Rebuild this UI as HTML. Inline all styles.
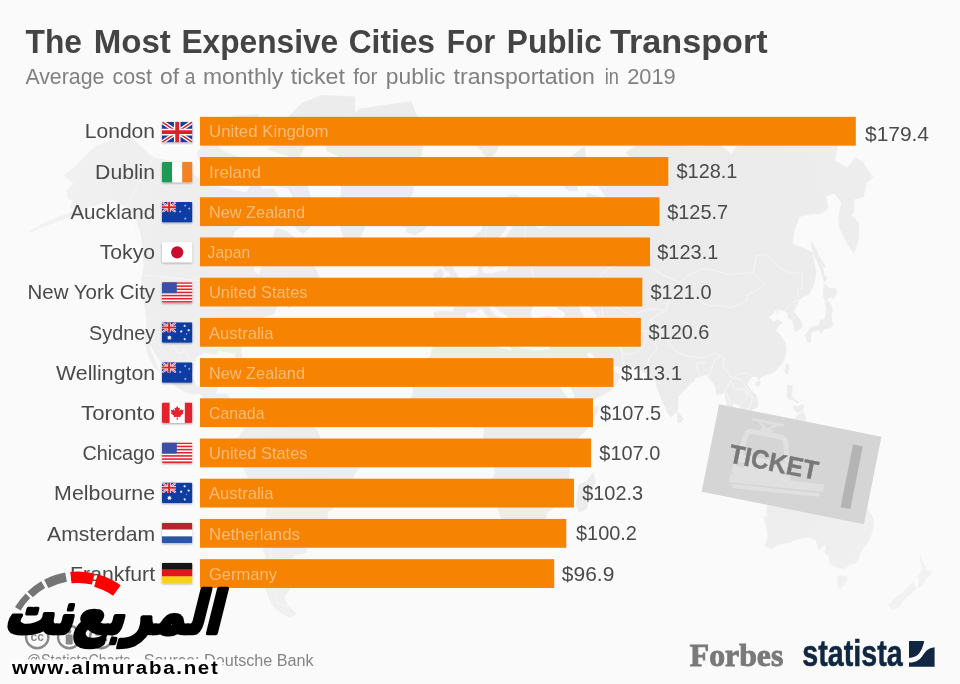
<!DOCTYPE html>
<html lang="en">
<head>
<meta charset="utf-8">
<title>The Most Expensive Cities For Public Transport</title>
<style>
html,body{margin:0;padding:0;background:#fafafa;}
body{width:960px;height:684px;overflow:hidden;font-family:"Liberation Sans","DejaVu Sans",sans-serif;}
svg{display:block;}
text{font-family:"Liberation Sans","DejaVu Sans",sans-serif;}
.title{font-size:32.7px;font-weight:bold;fill:#444444;}
.sub{font-size:21.4px;fill:#808080;}
.city,.val{font-size:20.4px;fill:#4a4a4a;}
.ctry{font-size:16.2px;fill:#fabb76;}
.src{font-size:16px;fill:#858585;}
</style>
</head>
<body>
<svg width="960" height="684" viewBox="0 0 960 684">
<defs>
<radialGradient id="landg" gradientUnits="userSpaceOnUse" cx="540" cy="250" r="520"><stop offset="0" stop-color="#ebebeb"/><stop offset="0.5" stop-color="#ececec"/><stop offset="0.8" stop-color="#efefef"/><stop offset="1" stop-color="#f2f2f2"/></radialGradient>
<clipPath id="mapclip"><rect x="0" y="92" width="960" height="560"/></clipPath>
<clipPath id="fclip"><rect width="30.4" height="20.5" rx="1.2" ry="1.2"/></clipPath>
<filter id="fsh" x="-20%" y="-20%" width="140%" height="150%"><feGaussianBlur in="SourceAlpha" stdDeviation="0.9"/><feOffset dx="0" dy="0.8" result="b"/><feComponentTransfer><feFuncA type="linear" slope="0.35"/></feComponentTransfer><feMerge><feMergeNode/><feMergeNode in="SourceGraphic"/></feMerge></filter>
<g id="f-uk" filter="url(#fsh)"><g clip-path="url(#fclip)"><svg width="30.4" height="20.5" viewBox="0 0 30.4 20.5"><g><rect width="30.4" height="20.5" fill="#1a3a9a"/><path d="M0,0L30.4,20.5M30.4,0L0,20.5" stroke="#fff" stroke-width="4.10"/><path d="M0,0L30.4,20.5M30.4,0L0,20.5" stroke="#d8202c" stroke-width="1.54"/><path d="M15.2,0V20.5M0,10.25H30.4" stroke="#fff" stroke-width="6.56"/><path d="M15.2,0V20.5M0,10.25H30.4" stroke="#d8202c" stroke-width="3.90"/></g></svg></g></g>
<g id="f-ie" filter="url(#fsh)"><g clip-path="url(#fclip)"><rect width="10.23" height="20.5" fill="#1d9a55"/><rect x="10.13" width="10.23" height="20.5" fill="#ffffff"/><rect x="20.27" width="10.13" height="20.5" fill="#f58220"/></g></g>
<g id="f-nz" filter="url(#fsh)"><g clip-path="url(#fclip)"><rect width="30.4" height="20.5" fill="#0c3ca3"/><svg width="14.2" height="10.3" viewBox="0 0 14.2 10.3"><g><rect width="14.2" height="10.3" fill="#1a3a9a"/><path d="M0,0L14.2,10.3M14.2,0L0,10.3" stroke="#fff" stroke-width="2.06"/><path d="M0,0L14.2,10.3M14.2,0L0,10.3" stroke="#d8202c" stroke-width="0.77"/><path d="M7.1,0V10.3M0,5.15H14.2" stroke="#fff" stroke-width="3.30"/><path d="M7.1,0V10.3M0,5.15H14.2" stroke="#d8202c" stroke-width="1.96"/></g></svg><polygon points="23.20,2.10 23.60,3.05 24.63,3.14 23.84,3.81 24.08,4.81 23.20,4.28 22.32,4.81 22.56,3.81 21.77,3.14 22.80,3.05" fill="#9db4f2"/><polygon points="27.20,5.10 27.60,6.05 28.63,6.14 27.84,6.81 28.08,7.81 27.20,7.27 26.32,7.81 26.56,6.81 25.77,6.14 26.80,6.05" fill="#9db4f2"/><polygon points="18.20,8.10 18.60,9.05 19.63,9.14 18.84,9.81 19.08,10.81 18.20,10.28 17.32,10.81 17.56,9.81 16.77,9.14 17.80,9.05" fill="#9db4f2"/><polygon points="23.30,15.10 23.70,16.05 24.73,16.14 23.94,16.81 24.18,17.81 23.30,17.28 22.42,17.81 22.66,16.81 21.87,16.14 22.90,16.05" fill="#9db4f2"/></g></g>
<g id="f-jp" filter="url(#fsh)"><g clip-path="url(#fclip)"><rect width="30.4" height="20.5" fill="#ffffff"/><circle cx="15.2" cy="10.25" r="6.1" fill="#c8102e"/></g></g>
<g id="f-us" filter="url(#fsh)"><g clip-path="url(#fclip)"><rect width="30.4" height="20.5" fill="#ffffff"/><rect y="0.00" width="30.4" height="1.58" fill="#e0212f"/><rect y="3.15" width="30.4" height="1.58" fill="#e0212f"/><rect y="6.31" width="30.4" height="1.58" fill="#e0212f"/><rect y="9.46" width="30.4" height="1.58" fill="#e0212f"/><rect y="12.62" width="30.4" height="1.58" fill="#e0212f"/><rect y="15.77" width="30.4" height="1.58" fill="#e0212f"/><rect y="18.92" width="30.4" height="1.58" fill="#e0212f"/><rect width="14.8" height="11.04" fill="#3a50a8"/></g></g>
<g id="f-au" filter="url(#fsh)"><g clip-path="url(#fclip)"><rect width="30.4" height="20.5" fill="#0c3ca3"/><svg width="14.2" height="10.3" viewBox="0 0 14.2 10.3"><g><rect width="14.2" height="10.3" fill="#1a3a9a"/><path d="M0,0L14.2,10.3M14.2,0L0,10.3" stroke="#fff" stroke-width="2.06"/><path d="M0,0L14.2,10.3M14.2,0L0,10.3" stroke="#d8202c" stroke-width="0.77"/><path d="M7.1,0V10.3M0,5.15H14.2" stroke="#fff" stroke-width="3.30"/><path d="M7.1,0V10.3M0,5.15H14.2" stroke="#d8202c" stroke-width="1.96"/></g></svg><polygon points="7.40,12.80 7.96,14.23 9.43,13.78 8.67,15.11 9.93,15.98 8.42,16.21 8.53,17.74 7.40,16.70 6.27,17.74 6.38,16.21 4.87,15.98 6.13,15.11 5.37,13.78 6.84,14.23" fill="#ffffff"/><polygon points="22.60,2.10 22.93,2.92 23.77,2.66 23.33,3.43 24.06,3.93 23.19,4.07 23.25,4.95 22.60,4.35 21.95,4.95 22.01,4.07 21.14,3.93 21.87,3.43 21.43,2.66 22.27,2.92" fill="#ffffff"/><polygon points="19.20,7.70 19.53,8.52 20.37,8.26 19.93,9.03 20.66,9.53 19.79,9.67 19.85,10.55 19.20,9.95 18.55,10.55 18.61,9.67 17.74,9.53 18.47,9.03 18.03,8.26 18.87,8.52" fill="#ffffff"/><polygon points="26.60,6.50 26.93,7.32 27.77,7.06 27.33,7.83 28.06,8.33 27.19,8.47 27.25,9.35 26.60,8.75 25.95,9.35 26.01,8.47 25.14,8.33 25.87,7.83 25.43,7.06 26.27,7.32" fill="#ffffff"/><polygon points="22.70,15.30 23.03,16.12 23.87,15.86 23.43,16.63 24.16,17.13 23.29,17.27 23.35,18.15 22.70,17.55 22.05,18.15 22.11,17.27 21.24,17.13 21.97,16.63 21.53,15.86 22.37,16.12" fill="#ffffff"/><polygon points="24.60,10.80 24.84,11.28 25.36,11.35 24.98,11.72 25.07,12.25 24.60,12.00 24.13,12.25 24.22,11.72 23.84,11.35 24.36,11.28" fill="#ffffff"/></g></g>
<g id="f-ca" filter="url(#fsh)"><g clip-path="url(#fclip)"><rect width="30.4" height="20.5" fill="#ffffff"/><rect width="7.6" height="20.5" fill="#e3222e"/><rect x="22.799999999999997" width="7.6" height="20.5" fill="#e3222e"/><path d="M15.2,3.2 l1.3,2.5 1.5,-0.7 -0.7,3.6 1.9,-2 0.4,1.1 2.1,-0.4 -0.9,2.8 0.9,0.5 -3.4,2.9 0.4,1.4 -3.1,-0.5 0.1,3.1 h-1 l0.1,-3.1 -3.1,0.5 0.4,-1.4 -3.4,-2.9 0.9,-0.5 -0.9,-2.8 2.1,0.4 0.4,-1.1 1.9,2 -0.7,-3.6 1.5,0.7z" fill="#e3222e"/></g></g>
<g id="f-nl" filter="url(#fsh)"><g clip-path="url(#fclip)"><rect width="30.4" height="20.5" fill="#ffffff"/><rect width="30.4" height="6.83" fill="#b3252f"/><rect y="13.67" width="30.4" height="6.83" fill="#2a55a6"/></g></g>
<g id="f-de" filter="url(#fsh)"><g clip-path="url(#fclip)"><rect width="30.4" height="6.93" fill="#141414"/><rect y="6.83" width="30.4" height="6.93" fill="#e2141c"/><rect y="13.67" width="30.4" height="6.83" fill="#fbd116"/></g></g>

</defs>
<rect x="0" y="0" width="960" height="684" fill="#fafafa"/>
<g clip-path="url(#mapclip)"><path d="M153.3,157.9L182.6,163.8L203.9,183.5L219.4,187.1L245.9,192.7L261.4,169.8L261.6,189.5L273.8,188.7L279.1,198.7L272.9,209.0L257.6,217.6L235.7,230.0L230.6,240.7L232.9,249.1L249.1,258.6L256.2,260.6L253.4,271.0L258.6,275.6L262.5,265.5L270.3,255.4L271.0,244.2L276.0,227.9L287.0,231.7L293.9,237.3L291.2,247.2L303.8,241.5L303.6,251.9L309.0,260.9L315.9,269.6L319.1,276.6L306.8,284.0L291.6,283.1L279.4,292.7L293.3,287.9L293.1,295.4L301.2,301.3L288.3,307.9L285.4,302.3L276.7,306.6L274.2,313.6L264.3,317.0L258.9,325.8L256.0,335.8L248.7,339.5L240.9,346.8L241.8,361.1L239.8,366.7L236.4,361.0L235.2,353.1L229.3,352.3L218.7,350.4L215.5,354.2L204.9,352.3L196.1,356.9L193.5,366.4L191.6,375.8L195.6,385.0L199.5,387.4L209.2,386.0L211.2,379.1L220.9,377.7L217.2,388.2L215.4,394.1L227.7,394.8L229.4,398.6L227.7,408.7L230.8,414.4L239.1,413.0L244.5,415.8L243.1,418.6L237.5,419.2L229.4,415.8L222.7,411.5L217.6,402.9L206.8,399.9L199.0,393.4L192.0,394.5L181.4,389.9L171.1,383.1L170.5,375.4L162.3,364.1L154.5,352.4L149.9,343.7L149.6,348.8L154.6,360.7L159.9,372.1L153.8,366.5L148.5,355.5L144.3,340.0L147.0,322.0L144.0,300.0L141.5,280.0L144.0,265.0L141.6,237.0L137.0,220.6L125.3,206.5L111.2,199.5L99.5,204.2L90.2,206.5L78.5,213.6L43.4,226.4L30.0,232.3L30.0,230.9L43.4,223.4L76.1,210.0L70.3,207.7L72.6,201.9L68.0,197.2L66.8,190.2L73.8,183.2L69.1,179.6L63.3,175.0L76.1,166.8L79.6,162.1L90.2,151.6L97.2,145.7L113.6,139.9L130.0,136.4ZM294.3,164.9L298.9,172.1L307.2,185.2L310.8,197.7L319.6,210.0L319.2,215.2L309.8,227.8L303.5,233.5L298.3,230.5L292.0,223.3L280.1,219.2L279.9,212.8L290.1,214.2L295.3,202.3L292.2,194.9L287.9,188.2L272.8,185.4L266.9,183.0L269.8,171.6L285.2,163.0ZM197.1,152.6L203.7,174.6L210.2,181.0L226.6,184.8L238.6,180.3L235.1,170.6L242.2,157.7L232.0,154.9L219.0,148.8L219.1,141.3L208.2,139.5ZM267.7,149.0L297.9,159.2L304.4,147.7L320.6,133.2L354.5,113.0L354.9,96.9L322.0,95.4L301.5,103.4L282.9,122.9L285.1,141.3ZM218.5,124.9L240.3,141.2L254.5,136.9L258.1,114.6L234.4,116.1ZM322.4,137.9L359.8,109.0L411.0,101.7L425.1,136.1L417.4,172.2L410.0,201.5L384.5,213.3L366.7,224.6L354.6,246.8L344.7,241.7L339.5,222.4L340.1,201.4L342.5,177.9L341.0,157.2L327.0,150.9ZM403.2,224.2L408.1,220.0L416.9,222.2L423.7,221.0L426.2,227.3L423.0,230.5L414.8,234.4L405.8,231.8L407.4,227.7L402.9,227.0ZM226.5,376.3L240.5,373.5L253.5,380.5L255.5,382.1L246.4,382.8L245.4,379.6L234.8,375.5ZM254.9,383.2L261.5,383.0L271.0,386.9L262.4,389.5L254.6,387.4ZM244.5,415.8L251.7,409.3L260.1,405.9L261.3,409.6L271.0,407.4L281.9,410.2L287.4,409.7L292.7,415.9L300.8,422.9L314.5,426.2L320.0,436.7L320.0,439.5L325.5,442.3L336.5,446.4L347.6,447.8L355.9,453.3L361.5,458.9L361.6,465.8L354.9,472.8L351.0,481.3L349.9,489.9L346.4,501.5L338.4,504.4L328.0,512.0L326.8,521.0L321.3,528.8L315.6,538.4L307.9,541.1L302.8,538.6L307.2,546.6L306.0,552.3L295.1,555.3L288.2,562.4L293.1,568.1L289.2,576.5L285.1,582.2L290.0,587.5L284.3,597.5L287.3,605.3L296.8,614.0L290.1,617.5L279.9,612.0L271.7,604.4L265.7,589.0L266.5,574.0L267.5,565.0L263.6,549.7L266.7,533.1L265.7,520.5L266.9,505.2L265.8,491.2L258.0,486.0L248.5,478.9L243.3,467.4L237.5,457.6L233.8,452.0L237.3,446.4L235.0,442.3L237.2,438.1L240.5,435.4L244.2,428.4L244.4,420.0ZM441.8,336.5L452.4,339.0L465.5,333.4L483.9,331.7L486.8,342.0L497.6,347.2L511.1,351.1L510.9,345.9L524.4,348.9L535.2,350.9L544.5,350.2L544.8,353.8L553.9,371.7L558.4,380.5L560.1,387.7L565.9,396.2L575.8,404.7L576.8,407.5L587.0,408.4L598.4,406.1L598.0,410.3L590.1,425.7L581.9,434.0L573.7,442.3L569.5,447.8L565.2,457.5L569.1,468.6L568.7,481.3L556.0,492.2L553.0,498.5L553.9,507.3L546.8,512.5L545.0,520.6L539.2,528.2L529.4,536.7L517.3,537.8L510.6,539.6L506.2,537.1L505.7,530.9L502.0,520.3L498.3,509.9L497.1,501.2L490.5,489.7L490.6,482.6L495.4,472.8L493.6,464.4L491.4,456.1L484.0,446.4L483.5,436.7L484.6,429.0L481.3,427.1L474.4,427.6L470.2,422.1L460.6,422.9L452.3,426.3L445.4,425.1L437.2,427.4L433.0,425.7L426.2,420.2L421.2,414.6L416.6,409.0L412.0,404.8L410.4,398.7L413.2,393.6L413.3,386.5L411.6,380.7L414.4,373.5L418.6,366.2L422.8,361.2L430.9,355.8L431.8,349.8L435.1,344.3L440.5,340.6ZM593.2,472.9L595.5,482.9L591.6,490.0L586.4,509.0L579.4,512.0L575.8,504.5L577.7,495.7L579.0,485.1L586.6,481.4L590.9,475.7ZM443.1,335.9L434.0,332.7L433.3,327.3L434.8,318.2L433.9,312.5L439.6,310.9L452.4,311.9L454.2,308.2L454.5,303.1L451.2,298.5L445.6,295.0L453.7,293.6L453.7,290.4L458.0,290.7L461.4,286.0L466.1,283.8L468.5,279.7L469.7,276.7L474.6,275.9L478.3,275.1L478.2,268.1L477.0,262.1L482.4,259.2L482.3,266.1L481.7,270.0L484.3,273.8L491.7,273.7L502.5,270.8L505.8,271.9L508.5,268.3L507.9,261.5L515.0,260.0L513.1,253.1L523.4,249.7L528.0,248.2L523.0,246.2L511.5,248.9L507.0,244.7L506.6,235.8L513.5,226.2L510.8,222.4L506.5,224.1L505.5,229.8L497.6,239.3L497.8,246.3L501.6,250.0L496.9,259.7L496.0,265.0L492.1,267.9L489.0,268.3L487.5,264.8L483.9,254.7L482.1,252.6L476.4,258.1L470.8,255.3L468.9,245.5L473.2,236.7L481.0,231.0L486.0,220.9L489.6,210.8L496.5,203.1L503.6,199.5L511.1,195.2L515.7,194.9L522.7,198.3L521.1,201.7L527.9,203.4L534.5,203.5L545.8,210.0L548.3,216.5L542.0,219.5L532.5,216.7L536.1,227.3L541.5,229.3L547.8,225.5L546.5,219.2L555.2,217.0L552.7,205.7L557.4,206.8L574.8,204.4L586.8,199.0L587.2,193.2L602.5,198.0L607.4,199.0L598.1,185.5L597.4,174.8L606.1,174.5L612.6,176.7L619.8,165.0L631.4,158.7L625.9,152.5L645.3,139.2L648.4,122.9L673.8,130.2L685.6,146.3L701.8,147.1L714.5,140.4L731.2,154.0L744.5,136.8L768.9,134.9L800.1,141.1L819.2,130.9L826.9,137.2L839.4,132.2L837.3,146.8L834.6,160.4L847.2,168.3L855.4,157.5L862.3,161.7L873.0,177.3L866.3,183.1L863.3,196.8L853.8,199.3L853.9,212.4L850.9,214.4L858.5,222.6L858.8,230.9L858.1,241.4L853.9,253.0L847.2,243.3L839.7,227.7L838.6,217.1L841.8,202.3L833.9,192.9L826.3,196.2L827.7,208.9L820.7,213.7L812.6,213.6L799.3,216.5L794.0,230.9L792.2,243.6L797.9,246.3L807.4,250.0L812.1,252.8L814.2,264.0L816.1,273.4L813.9,282.8L809.3,294.3L801.9,297.1L799.3,300.3L797.5,303.8L793.5,311.4L801.1,321.4L802.1,327.0L797.9,330.3L794.8,331.2L793.6,323.0L791.4,319.3L788.4,318.4L787.0,312.2L784.7,310.8L778.1,309.3L777.4,315.3L777.0,308.2L771.3,314.9L768.6,317.0L773.0,322.0L777.4,319.9L782.6,322.6L777.5,326.6L775.6,330.4L779.0,333.9L785.1,342.5L785.2,344.6L786.3,347.7L785.9,353.6L782.5,363.1L778.3,366.9L774.8,371.5L768.2,373.9L760.4,376.9L758.8,380.3L756.8,376.6L752.1,376.4L749.0,380.5L746.9,384.5L750.8,390.6L756.1,395.0L758.1,403.4L756.9,407.5L752.1,409.8L746.8,414.8L746.1,410.4L742.5,409.9L739.5,405.5L735.2,403.5L733.7,401.2L732.6,405.6L731.0,411.4L734.0,417.1L736.0,420.5L740.8,424.2L743.1,428.4L744.6,435.4L743.0,435.9L737.1,431.7L734.2,424.2L732.5,420.8L728.5,417.1L729.0,409.9L725.9,399.7L724.8,392.3L719.2,394.5L716.1,393.9L715.8,386.4L712.4,381.9L708.4,377.4L707.5,374.4L704.0,375.0L700.1,376.6L694.7,378.2L694.2,381.3L689.8,383.7L684.8,389.7L681.0,393.6L677.6,397.1L678.3,402.9L677.3,410.7L675.2,413.5L673.0,414.7L671.2,416.9L667.7,413.0L665.8,407.3L663.1,403.0L660.5,395.8L657.3,388.5L656.5,385.0L655.8,379.6L653.9,379.6L649.8,380.3L645.9,375.9L648.7,374.0L643.7,372.3L640.0,368.4L637.9,366.6L625.5,367.4L613.2,366.0L610.7,362.1L604.8,363.4L596.4,359.6L592.3,353.2L588.4,352.3L586.5,354.8L588.7,358.5L592.6,363.3L593.4,366.9L596.4,369.8L597.2,365.9L596.7,370.4L604.1,370.7L609.9,365.8L610.5,369.7L617.0,372.6L620.2,375.5L617.1,381.8L615.2,385.9L608.2,391.8L600.2,396.1L590.8,400.4L581.3,403.9L577.2,404.1L574.8,397.6L574.0,393.4L569.0,384.8L564.3,379.0L562.1,372.5L558.3,368.7L553.3,360.7L551.0,359.5L551.3,355.3L548.4,359.9L546.4,358.4L544.8,353.8L544.0,349.9L549.3,349.8L550.9,345.1L552.2,338.2L552.5,332.5L547.3,334.2L542.9,334.6L538.1,333.7L531.4,333.1L529.4,330.6L526.5,327.4L527.4,324.2L525.9,322.5L533.1,320.8L534.2,318.4L539.4,318.0L548.3,315.5L553.8,318.0L561.7,318.5L565.4,316.7L564.9,312.6L559.4,309.4L553.7,305.0L554.5,300.8L557.1,297.1L551.7,299.1L546.8,301.0L548.4,304.1L543.6,307.0L541.1,302.6L536.5,300.2L533.5,304.5L531.4,309.7L530.1,315.8L532.9,318.5L529.2,320.5L525.3,320.3L520.0,320.0L518.9,322.7L517.0,321.4L518.6,325.9L520.6,329.1L518.0,329.8L518.8,333.9L516.4,333.0L514.1,330.8L513.2,327.6L509.8,323.4L508.0,319.5L508.1,316.2L502.7,312.9L496.6,308.6L492.5,304.6L489.0,305.3L489.7,309.7L492.8,311.4L494.3,315.4L499.0,317.0L505.8,321.8L505.4,323.5L501.8,321.2L500.9,323.5L502.6,326.1L500.9,328.4L498.8,329.4L499.5,326.1L498.5,322.9L495.3,320.7L490.0,318.1L484.7,313.5L483.8,309.8L480.1,308.4L476.8,310.5L473.6,312.9L467.9,311.5L465.3,314.9L465.9,317.2L459.7,319.9L456.8,324.8L458.1,327.3L455.8,330.8L452.4,333.4L445.8,333.7ZM443.7,288.9L448.7,287.8L452.5,286.8L460.7,284.5L458.7,283.4L461.6,279.0L458.1,277.8L456.9,274.0L453.7,270.2L452.5,266.3L450.6,265.1L452.5,259.9L447.7,259.4L449.7,255.8L445.4,255.7L443.4,260.2L443.6,264.3L444.0,268.2L445.6,270.9L448.8,271.0L450.0,275.2L449.5,276.7L446.3,276.7L447.0,280.5L444.5,282.3L450.0,283.4L446.7,285.3ZM432.6,282.2L437.5,283.4L441.8,280.8L442.6,275.9L443.9,272.1L442.0,269.4L437.9,269.3L436.6,272.1L432.9,273.2L434.5,277.0L431.9,280.7ZM806.1,334.3L807.8,331.6L810.9,327.3L818.7,325.6L820.8,319.3L823.1,320.7L825.9,315.7L826.6,307.5L825.1,302.2L829.1,301.8L832.4,309.1L831.3,315.3L831.9,321.2L833.2,324.3L830.9,327.2L828.1,328.5L823.6,329.2L822.6,330.7L821.3,333.5L818.2,329.5L813.2,331.3L810.8,332.9L811.0,336.6L810.6,341.7L808.1,342.6L806.3,337.9L805.0,335.4ZM825.7,301.3L823.4,296.4L824.1,284.4L829.8,288.7L835.5,288.6L837.2,292.4L833.6,298.4L828.5,296.8L827.3,300.3ZM824.5,282.1L827.2,278.1L824.2,274.7L822.3,266.3L826.2,267.3L818.7,255.9L815.8,248.6L811.4,242.0L811.5,246.7L814.5,255.5L820.2,268.1L822.1,275.0ZM787.5,363.7L789.2,365.9L787.3,374.4L784.7,371.3L786.2,364.7ZM758.1,381.3L760.9,382.2L758.6,386.5L754.9,384.4ZM677.9,412.1L683.1,418.6L681.0,422.3L678.2,422.8L677.5,417.2ZM787.4,385.5L792.1,385.8L792.1,391.6L791.1,396.2L798.5,402.2L797.1,402.8L792.8,399.8L789.2,399.9L787.0,396.3L787.4,391.7ZM793.2,405.8L797.4,406.7L802.7,404.3L803.5,408.1L801.8,411.1L797.7,412.6L794.9,411.1ZM793.9,419.8L797.8,415.2L803.2,411.7L806.2,418.3L803.6,422.7L799.5,421.2ZM720.4,424.2L726.5,425.0L734.9,433.4L743.2,442.3L750.1,447.8L749.4,455.7L745.8,455.7L739.0,450.1L734.4,442.3L729.4,434.8L723.9,429.2ZM747.6,458.5L756.7,458.3L763.6,457.7L773.1,461.4L772.5,463.7L760.7,462.6L751.1,460.2ZM758.4,435.4L763.9,434.8L769.4,431.2L774.8,425.5L780.1,419.8L785.8,425.0L782.6,429.8L786.0,436.7L781.9,440.9L779.1,446.4L777.6,450.6L773.5,450.6L769.4,448.7L763.9,447.8L761.2,443.6L758.4,439.5ZM787.4,438.1L790.1,436.2L802.0,435.3L797.0,438.4L790.1,438.7L792.9,442.3L797.8,442.0L794.2,445.0L797.7,450.7L795.4,454.3L791.4,447.8L789.4,454.9L787.2,454.9L785.9,447.8L788.2,440.9ZM819.1,441.7L827.4,441.7L830.0,448.7L838.4,444.2L846.6,446.7L857.5,451.6L864.3,456.4L861.4,459.3L865.4,463.8L872.0,469.2L862.4,468.2L854.5,461.4L848.7,465.8L840.6,462.2L838.2,455.0L831.3,451.8L824.5,450.7L821.8,447.3ZM767.0,504.2L767.2,517.1L763.9,517.0L767.3,530.5L768.0,537.5L764.5,545.8L772.1,548.4L778.3,544.7L789.7,542.1L795.7,539.5L804.3,537.7L809.7,537.6L816.0,540.5L819.5,550.0L821.4,547.4L826.3,544.0L825.0,553.4L829.2,555.6L830.0,563.6L837.2,567.4L844.5,568.8L850.3,564.3L856.2,562.7L862.0,549.9L869.8,538.8L873.3,527.7L873.5,518.7L868.6,510.9L865.0,500.7L858.1,496.3L857.2,483.5L851.9,480.3L849.8,470.5L846.6,477.2L844.3,488.0L841.2,491.8L835.4,486.3L829.6,483.2L833.6,474.6L829.0,474.0L822.2,472.5L817.9,474.8L814.9,478.4L813.1,483.0L809.1,482.3L803.7,479.9L799.0,486.8L792.2,492.0L788.4,497.0L777.1,500.2L769.8,503.3ZM838.3,575.4L847.0,576.7L846.3,581.8L840.9,587.9L838.3,587.6L837.8,581.8ZM920.2,556.0L923.2,564.0L925.5,565.5L925.7,569.9L932.3,571.0L927.8,577.4L925.8,579.5L920.9,586.5L917.8,587.6L919.5,580.3L917.7,576.9L921.8,571.4L922.4,567.0L920.3,559.0ZM913.2,581.9L915.8,587.9L910.0,594.9L903.9,599.0L899.9,606.5L892.5,609.6L888.5,605.5L896.5,596.6L904.6,591.8L910.7,584.0ZM564.4,187.3L568.0,174.2L572.2,156.2L584.6,146.2L585.2,157.5L575.1,176.4L577.4,190.4L569.8,190.8ZM476.0,144.5L490.3,131.4L503.1,134.5L496.8,150.9L488.8,160.8L482.2,151.8Z" fill="url(#landg)" stroke="url(#landg)" stroke-width="0.8" stroke-linejoin="round"/><path d="M579.2,302.4L587.5,297.4L593.4,302.5L588.7,305.6L594.4,312.4L598.2,320.8L599.4,329.8L592.2,331.9L586.6,329.1L586.3,320.2L580.4,311.1Z" fill="#fafafa"/><path d="M679.8,282.4L688.8,275.0L702.6,268.5L713.7,270.4L728.1,274.5L743.5,272.9L753.3,272.7L764.8,283.7L755.6,291.0L747.3,294.6L747.3,299.8L731.9,308.0L717.8,305.1L708.6,305.8L692.0,297.3L689.5,290.5L679.8,282.4M753.3,272.7L756.3,256.0L764.8,253.9L780.7,268.5L790.8,272.8L802.5,273.2L802.1,288.5L797.1,289.9L799.3,300.3M799.3,300.3L792.5,302.2L788.2,306.6L784.7,310.8M793.2,318.8L797.0,315.4M752.1,376.4L746.2,372.7L738.1,373.8L734.4,377.9L730.2,376.5L726.6,369.3L723.1,369.4L724.3,358.2L720.2,355.7L713.5,352.9L706.0,357.7L697.2,357.3L686.7,355.9L675.2,350.8L668.7,343.5L664.5,333.6L654.4,329.0M654.4,329.0L655.1,342.2L657.3,348.7L649.0,358.4L647.1,366.1L642.8,371.7M708.4,377.4L711.1,369.6L714.5,360.0L720.2,355.7M700.1,376.6L697.0,368.3L697.1,362.4L706.7,363.4M679.8,282.4L665.7,276.3L647.4,265.3L631.1,261.2L607.6,268.5L595.0,281.3L581.9,279.3L575.8,288.0L581.1,298.0M679.8,282.4L676.1,291.5L669.8,298.5L666.2,310.2L651.3,318.7L650.4,320.9L654.4,329.0M666.2,310.2L652.1,308.8L642.0,311.1L632.3,316.1L617.8,307.9L601.4,303.3L603.3,316.2L595.2,314.1M654.4,329.0L645.5,331.6L632.9,328.4L619.7,334.8L620.8,347.9L624.2,354.5L635.7,353.0L643.4,345.8L646.6,339.2L645.5,331.6M619.7,334.8L599.8,329.4M620.8,347.9L624.4,367.4M734.4,377.9L730.6,380.8L734.2,389.2L744.3,389.1L747.5,398.1L740.0,404.9M730.6,380.8L725.2,390.8L729.6,401.2L730.6,409.9M744.3,389.1L752.7,398.1L749.3,408.4L745.2,410.1M734.4,377.9L741.5,380.0L744.8,385.2L752.7,398.1M516.6,200.4L519.5,205.6L524.8,225.6L525.6,239.5L523.0,246.2M523.4,249.7L523.3,258.9L531.5,266.7L534.4,280.2L541.8,280.0L558.1,288.7L555.3,297.2M510.8,222.4L508.3,211.5L501.2,206.6L497.1,209.4L489.4,222.3L485.6,231.9L485.7,245.3L483.9,254.7M153.3,157.9L121.6,213.4L126.7,222.1L134.5,219.6L135.2,226.6L138.5,240.6L134.7,246.7M144.5,275.1L216.6,282.3L229.7,287.4L241.2,294.1L245.4,299.0L243.3,309.2L253.0,306.8L260.0,304.6L264.6,301.2L273.7,301.7L281.3,293.2L284.7,294.9L285.0,301.6M144.3,340.0L150.7,339.5L159.8,344.8L167.5,344.4L172.3,343.5L176.5,351.1L180.3,353.2L184.7,350.7L189.1,358.3L194.6,363.6M267.8,488.9L272.9,502.1L268.9,517.3L271.1,536.2L270.8,552.8L272.2,573.7L274.2,592.3L278.0,603.9L287.0,605.3L289.3,615.0" fill="none" stroke="#f6f6f6" stroke-width="0.9" stroke-linejoin="round"/></g>

<text class="title" y="53"><tspan x="25.6" textLength="56.4" lengthAdjust="spacingAndGlyphs">The</tspan> <tspan x="93.7" textLength="77.1" lengthAdjust="spacingAndGlyphs">Most</tspan> <tspan x="181.4" textLength="156.8" lengthAdjust="spacingAndGlyphs">Expensive</tspan> <tspan x="348.7" textLength="86.3" lengthAdjust="spacingAndGlyphs">Cities</tspan> <tspan x="446.7" textLength="48.5" lengthAdjust="spacingAndGlyphs">For</tspan> <tspan x="506.8" textLength="95.0" lengthAdjust="spacingAndGlyphs">Public</tspan> <tspan x="610.0" textLength="157.7" lengthAdjust="spacingAndGlyphs">Transport</tspan></text>
<text class="sub" y="84"><tspan x="25.4" textLength="79.0" lengthAdjust="spacingAndGlyphs">Average</tspan> <tspan x="112.6" textLength="39.3" lengthAdjust="spacingAndGlyphs">cost</tspan> <tspan x="160.1" textLength="19.1" lengthAdjust="spacingAndGlyphs">of</tspan> <tspan x="184.8" textLength="10.7" lengthAdjust="spacingAndGlyphs">a</tspan> <tspan x="203.0" textLength="80.2" lengthAdjust="spacingAndGlyphs">monthly</tspan> <tspan x="290.7" textLength="54.3" lengthAdjust="spacingAndGlyphs">ticket</tspan> <tspan x="353.2" textLength="24.3" lengthAdjust="spacingAndGlyphs">for</tspan> <tspan x="385.8" textLength="59.6" lengthAdjust="spacingAndGlyphs">public</tspan> <tspan x="453.6" textLength="141.3" lengthAdjust="spacingAndGlyphs">transportation</tspan> <tspan x="604.8" textLength="14.2" lengthAdjust="spacingAndGlyphs">in</tspan> <tspan x="627.2" textLength="48.5" lengthAdjust="spacingAndGlyphs">2019</tspan></text>
<rect x="200.0" y="116.85" width="655.80" height="28.8" fill="#f78303"/>
<text class="city" x="155.1" y="138.45" text-anchor="end" textLength="70.4" lengthAdjust="spacingAndGlyphs">London</text>
<text class="ctry" x="209" y="137.45" textLength="119.5" lengthAdjust="spacingAndGlyphs">United Kingdom</text>
<text class="val" x="865.00" y="140.55" textLength="64" lengthAdjust="spacingAndGlyphs">$179.4</text>
<use href="#f-uk" x="162" y="121.85"/>
<rect x="200.0" y="157.06" width="468.27" height="28.8" fill="#f78303"/>
<text class="city" x="155.1" y="178.66" text-anchor="end" textLength="60" lengthAdjust="spacingAndGlyphs">Dublin</text>
<text class="ctry" x="209" y="177.66" textLength="52" lengthAdjust="spacingAndGlyphs">Ireland</text>
<text class="val" x="676.47" y="178.26" textLength="61" lengthAdjust="spacingAndGlyphs">$128.1</text>
<use href="#f-ie" x="162" y="161.93"/>
<rect x="200.0" y="197.27" width="459.50" height="28.8" fill="#f78303"/>
<text class="city" x="155.1" y="218.87" text-anchor="end" textLength="84.7" lengthAdjust="spacingAndGlyphs">Auckland</text>
<text class="ctry" x="209" y="217.87" textLength="96" lengthAdjust="spacingAndGlyphs">New Zealand</text>
<text class="val" x="667.20" y="218.87" textLength="61" lengthAdjust="spacingAndGlyphs">$125.7</text>
<use href="#f-nz" x="162" y="202.02"/>
<rect x="200.0" y="237.48" width="449.99" height="28.8" fill="#f78303"/>
<text class="city" x="155.1" y="259.08" text-anchor="end" textLength="55.4" lengthAdjust="spacingAndGlyphs">Tokyo</text>
<text class="ctry" x="207.6" y="258.08" textLength="42.6" lengthAdjust="spacingAndGlyphs">Japan</text>
<text class="val" x="657.29" y="258.88" textLength="61" lengthAdjust="spacingAndGlyphs">$123.1</text>
<use href="#f-jp" x="162" y="242.10"/>
<rect x="200.0" y="277.69" width="442.32" height="28.8" fill="#f78303"/>
<text class="city" x="155.1" y="299.29" text-anchor="end" textLength="127.6" lengthAdjust="spacingAndGlyphs">New York City</text>
<text class="ctry" x="209" y="298.29" textLength="98.5" lengthAdjust="spacingAndGlyphs">United States</text>
<text class="val" x="650.52" y="299.29" textLength="61" lengthAdjust="spacingAndGlyphs">$121.0</text>
<use href="#f-us" x="162" y="282.18"/>
<rect x="200.0" y="317.90" width="440.86" height="28.8" fill="#f78303"/>
<text class="city" x="155.1" y="339.50" text-anchor="end" textLength="66" lengthAdjust="spacingAndGlyphs">Sydney</text>
<text class="ctry" x="209" y="338.50" textLength="64.5" lengthAdjust="spacingAndGlyphs">Australia</text>
<text class="val" x="648.46" y="339.20" textLength="61" lengthAdjust="spacingAndGlyphs">$120.6</text>
<use href="#f-au" x="162" y="322.27"/>
<rect x="200.0" y="358.11" width="413.44" height="28.8" fill="#f78303"/>
<text class="city" x="155.1" y="379.71" text-anchor="end" textLength="99" lengthAdjust="spacingAndGlyphs">Wellington</text>
<text class="ctry" x="209" y="378.71" textLength="96" lengthAdjust="spacingAndGlyphs">New Zealand</text>
<text class="val" x="621.14" y="379.71" textLength="61" lengthAdjust="spacingAndGlyphs">$113.1</text>
<use href="#f-nz" x="162" y="362.35"/>
<rect x="200.0" y="398.32" width="392.97" height="28.8" fill="#f78303"/>
<text class="city" x="155.1" y="419.92" text-anchor="end" textLength="74" lengthAdjust="spacingAndGlyphs">Toronto</text>
<text class="ctry" x="209" y="418.92" textLength="55.5" lengthAdjust="spacingAndGlyphs">Canada</text>
<text class="val" x="600.07" y="419.92" textLength="61" lengthAdjust="spacingAndGlyphs">$107.5</text>
<use href="#f-ca" x="162" y="402.43"/>
<rect x="200.0" y="438.53" width="391.14" height="28.8" fill="#f78303"/>
<text class="city" x="155.1" y="460.13" text-anchor="end" textLength="72.5" lengthAdjust="spacingAndGlyphs">Chicago</text>
<text class="ctry" x="209" y="459.13" textLength="98.5" lengthAdjust="spacingAndGlyphs">United States</text>
<text class="val" x="599.34" y="460.13" textLength="61" lengthAdjust="spacingAndGlyphs">$107.0</text>
<use href="#f-us" x="162" y="442.51"/>
<rect x="200.0" y="478.74" width="373.96" height="28.8" fill="#f78303"/>
<text class="city" x="155.1" y="500.34" text-anchor="end" textLength="101" lengthAdjust="spacingAndGlyphs">Melbourne</text>
<text class="ctry" x="209" y="499.34" textLength="64.5" lengthAdjust="spacingAndGlyphs">Australia</text>
<text class="val" x="582.16" y="499.84" textLength="61" lengthAdjust="spacingAndGlyphs">$102.3</text>
<use href="#f-au" x="162" y="482.60"/>
<rect x="200.0" y="518.95" width="366.28" height="28.8" fill="#f78303"/>
<text class="city" x="155.1" y="540.55" text-anchor="end" textLength="108" lengthAdjust="spacingAndGlyphs">Amsterdam</text>
<text class="ctry" x="209" y="539.55" textLength="91" lengthAdjust="spacingAndGlyphs">Netherlands</text>
<text class="val" x="575.98" y="539.80" textLength="61" lengthAdjust="spacingAndGlyphs">$100.2</text>
<use href="#f-nl" x="162" y="522.68"/>
<rect x="200.0" y="559.16" width="354.22" height="28.8" fill="#f78303"/>
<text class="city" x="155.1" y="580.76" text-anchor="end" textLength="85" lengthAdjust="spacingAndGlyphs">Frankfurt</text>
<text class="ctry" x="209" y="579.76" textLength="68" lengthAdjust="spacingAndGlyphs">Germany</text>
<text class="val" x="561.82" y="580.76" textLength="52.5" lengthAdjust="spacingAndGlyphs">$96.9</text>
<use href="#f-de" x="162" y="562.76"/>
<g transform="translate(791.5,464.2) rotate(11.3)"><rect x="-82.75" y="-44.65" width="165.5" height="89.3" fill="#d5d5d5"/><g fill="#e0e0e0" stroke="none"><rect x="-47.5" y="-37.8" width="33" height="2.6" rx="1"/><path d="M-38,-35.5 L-29,-29 L-33,-29 L-42,-35.5Z M-24,-35.5 L-33,-29 L-29,-29 L-20,-35.5Z"/><rect x="-37" y="-30" width="12" height="3"/><path d="M-45,-27 H-16 Q-9,-27 -7,-19 L2,17 Q3,21 -2,21 H-53 Q-58,21 -57.5,16 L-53,-19 Q-52,-27 -45,-27Z"/><path d="M-58,21.5 L36,13.5 L36,21 L-58,30Z"/><path d="M-54,31 L33,23 L33,26.5 L-54,35Z"/></g><path d="M-44,-22 H-17 Q-13,-22 -12,-18 L-7,0 H-50 L-48,-18 Q-47.5,-22 -44,-22Z" fill="#d5d5d5"/><rect x="-54" y="8" width="8" height="5" rx="1" fill="#d5d5d5"/><rect x="-9" y="7" width="8" height="5" rx="1" fill="#d5d5d5"/><rect x="56.5" y="-31.5" width="10" height="64" fill="#b4b4b4"/><text x="-63" y="10.6" font-size="26.5" font-weight="bold" fill="#787878" stroke="#787878" stroke-width="0.4" textLength="90.5" lengthAdjust="spacingAndGlyphs">TICKET</text></g>
<text x="689.8" y="666.3" font-family="'Liberation Serif','DejaVu Serif',serif" font-weight="bold" font-size="32" fill="#797979" stroke="#797979" stroke-width="0.9" textLength="93.5" lengthAdjust="spacingAndGlyphs" style="font-family:'Liberation Serif','DejaVu Serif',serif">Forbes</text>
<text x="802.3" y="665.8" font-weight="bold" font-size="37" fill="#0f2741" stroke="#0f2741" stroke-width="0.5" textLength="100.5" lengthAdjust="spacingAndGlyphs">statista</text>
<g transform="translate(909,641)"><path d="M0,0 H15.2 C13.6,8 10.5,13.6 6,15.6 C4,16.5 2,16.8 0,16.8Z" fill="#0f2741"/><path d="M0,21.6 C5.5,21.6 10,20 13,15.6 C16,10.8 19,6.8 25.6,6.2 V25.7 H0Z" fill="#0f2741"/></g>
<circle cx="37.2" cy="637" r="11.2" fill="none" stroke="#8a8a8a" stroke-width="2.4"/><circle cx="69.2" cy="637" r="11.2" fill="none" stroke="#8a8a8a" stroke-width="2.4"/><circle cx="101.2" cy="637" r="11.2" fill="none" stroke="#8a8a8a" stroke-width="2.4"/><text x="37.2" y="641.2" text-anchor="middle" font-size="12" font-weight="bold" fill="#8a8a8a">cc</text><circle cx="69.2" cy="631.5" r="2.2" fill="#8a8a8a"/><rect x="65.7" y="634.5" width="7" height="10" rx="1.2" fill="#8a8a8a"/><rect x="95.2" y="633" width="12" height="2.6" fill="#8a8a8a"/><rect x="95.2" y="638.6" width="12" height="2.6" fill="#8a8a8a"/>
<text class="src" x="26.5" y="666.2" textLength="104" lengthAdjust="spacingAndGlyphs">@StatistaCharts</text>
<text class="src" x="143.7" y="666.2" textLength="170" lengthAdjust="spacingAndGlyphs">Source: Deutsche Bank</text>
<path d="M15.0,607.1 A73.5,73.5 0 0 1 25.6,593.5 L30.2,598.0 A67,67 0 0 0 20.6,610.5Z" fill="#757575"/><path d="M27.4,591.7 A73.5,73.5 0 0 1 41.2,581.3 L45.1,588.1 A65.7,65.7 0 0 0 32.8,597.3Z" fill="#757575"/><path d="M44.1,579.8 A73.5,73.5 0 0 1 65.2,572.6 L66.9,581.8 A64.2,64.2 0 0 0 48.4,588.1Z" fill="#757575"/><path d="M70.3,571.9 A73.5,73.5 0 0 1 94.5,573.4 L91.9,584.6 A62,62 0 0 0 71.5,583.3Z" fill="#fe0000"/><path d="M97.6,574.2 A73.5,73.5 0 0 1 120.7,585.2 L113.1,595.7 A60.5,60.5 0 0 0 94.2,586.7Z" fill="#fe0000"/><text id="wmar" transform="translate(4,633.3) skewX(-14) scale(0.80,0.965)" x="0" y="0" font-size="60" font-weight="bold" fill="#000" stroke="#000" stroke-width="4.5" stroke-linejoin="round" style="font-family:'DejaVu Sans',sans-serif">المربع‌نت</text><rect x="9.5" y="659.4" width="213" height="18.2" rx="3.5" fill="#ffffff"/><text x="12" y="674.4" font-size="18.3" font-weight="bold" fill="#000" letter-spacing="1.5" textLength="207.5" lengthAdjust="spacingAndGlyphs">www.almuraba.net</text>

</svg>
</body>
</html>
